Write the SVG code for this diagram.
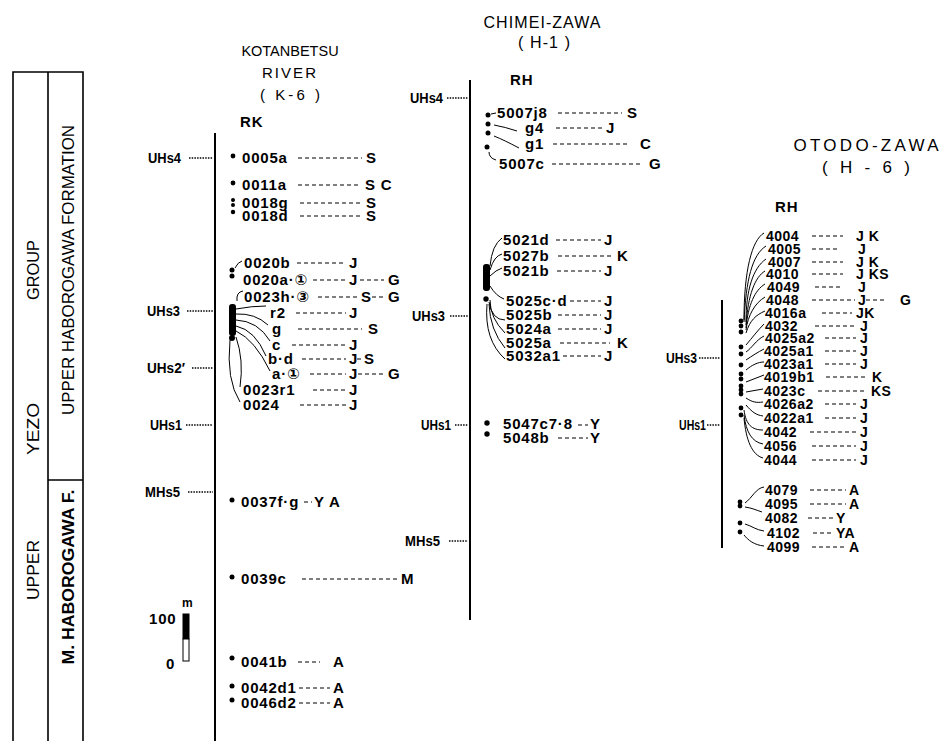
<svg xmlns="http://www.w3.org/2000/svg" width="941" height="741" viewBox="0 0 941 741">
<style>
text{font-family:"Liberation Sans","DejaVu Sans",Arial,sans-serif;fill:#000}
.t{font-size:15px;font-weight:bold;letter-spacing:0.8px}
.s{font-size:14px;font-weight:bold;letter-spacing:0.5px}
.hl{font-size:14px;font-weight:bold}
.h{font-size:16px}
.ax{stroke:#000;stroke-width:2;fill:none}
.d{stroke:#000;stroke-width:1.1;stroke-dasharray:4 3;fill:none}
.hz{stroke:#000;stroke-width:1.3;stroke-dasharray:1.5 1.2;fill:none}
.c{stroke:#000;stroke-width:1;fill:none}
.box{stroke:#000;stroke-width:1.6;fill:none}
</style>
<rect width="941" height="741" fill="#fff"/>

<g id="stratigraphy">
<path class="box" d="M13,741 V72 H83 V741 M48,72 V741 M48,480 H83"/>
<text transform="translate(39,600) rotate(-90)" style="font-size:17px" textLength="60" lengthAdjust="spacingAndGlyphs">UPPER</text>
<text transform="translate(39,455) rotate(-90)" style="font-size:17px" textLength="52" lengthAdjust="spacingAndGlyphs">YEZO</text>
<text transform="translate(39,300) rotate(-90)" style="font-size:17px" textLength="60" lengthAdjust="spacingAndGlyphs">GROUP</text>
<text x="0" y="0" transform="translate(74,270) rotate(-90)" text-anchor="middle" style="font-size:17px" textLength="290" lengthAdjust="spacingAndGlyphs">UPPER HABOROGAWA FORMATION</text>
<text x="0" y="0" transform="translate(74,577) rotate(-90)" text-anchor="middle" style="font-size:16px;font-weight:bold" textLength="175" lengthAdjust="spacingAndGlyphs">M. HABOROGAWA F.</text>
</g>

<!-- ===== K-6 ===== -->
<g id="k6-title">
<text x="290" y="56" text-anchor="middle" style="font-size:14.5px">KOTANBETSU</text>
<text x="289" y="78" text-anchor="middle" style="font-size:15px" textLength="54">RIVER</text>
<text x="290" y="100" text-anchor="middle" style="font-size:15px" textLength="60">( K-6 )</text>
<text class="t" x="240" y="127">RK</text>
</g>
<g id="k6-horizons">
<text class="hl" x="148" y="163" textLength="33" lengthAdjust="spacingAndGlyphs">UHs4</text>
<text class="hl" x="147" y="316" textLength="33" lengthAdjust="spacingAndGlyphs">UHs3</text>
<text class="hl" x="147" y="373" textLength="38" lengthAdjust="spacingAndGlyphs">UHs2′</text>
<text class="hl" x="150" y="430" textLength="32" lengthAdjust="spacingAndGlyphs">UHs1</text>
<text class="hl" x="145" y="497" textLength="35" lengthAdjust="spacingAndGlyphs">MHs5</text>
</g>
<g id="scale">
<text x="182" y="607" style="font-size:12px;font-weight:bold">m</text>
<text class="t" x="149" y="624">100</text>
<text class="t" x="166" y="669">0</text>
<rect x="183" y="614" width="6" height="25" fill="#000" stroke="#000"/>
<rect x="183" y="639" width="6" height="22" fill="#fff" stroke="#000"/>
</g>

<g id="k6-0005a"><circle cx="233" cy="156" r="2.4"/><text class="t" x="242" y="163">0005a</text><text class="t" x="366" y="163">S</text></g>
<g id="k6-0011a"><circle cx="233" cy="183" r="2.4"/><text class="t" x="242" y="190">0011a</text><text class="t" x="365" y="190">S C</text></g>
<g id="k6-0018g"><circle cx="233" cy="200" r="2"/><circle cx="233" cy="205" r="2"/><text class="t" x="242" y="208">0018g</text><text class="t" x="366" y="208">S</text></g>
<g id="k6-0018d"><circle cx="233" cy="212" r="2.2"/><text class="t" x="242" y="221">0018d</text><text class="t" x="366" y="221">S</text></g>
<g id="k6-0020b"><circle cx="232" cy="270" r="2.5"/><text class="t" x="244" y="268">0020b</text><text class="t" x="349" y="268">J</text></g>
<g id="k6-0020a"><circle cx="232" cy="276" r="2.5"/><text class="t" x="243" y="285">0020a·①</text><text class="t" x="349" y="285">J</text><text class="t" x="388" y="285">G</text></g>
<g id="k6-0023h"><text class="t" x="244" y="302">0023h·③</text><text class="t" x="361" y="302">S</text><text class="t" x="388" y="302">G</text></g>
<g id="k6-r2"><rect x="229" y="304" width="7" height="32" rx="3" fill="#000"/><circle cx="232" cy="338" r="3"/><text class="t" x="270" y="318">r2</text><text class="t" x="349" y="318">J</text></g>
<g id="k6-g"><text class="t" x="272" y="334">g</text><text class="t" x="368" y="334">S</text></g>
<g id="k6-c"><text class="t" x="272" y="350">c</text><text class="t" x="349" y="350">J</text></g>
<g id="k6-bd"><text class="t" x="268" y="364">b·d</text><text class="t" x="349" y="364">J</text><text class="t" x="364" y="364">S</text></g>
<g id="k6-a1"><text class="t" x="272" y="379">a·①</text><text class="t" x="349" y="379">J</text><text class="t" x="388" y="379">G</text></g>
<g id="k6-0023r1"><text class="t" x="243" y="395">0023r1</text><text class="t" x="349" y="395">J</text></g>
<g id="k6-0024"><text class="t" x="243" y="410">0024</text><text class="t" x="349" y="410">J</text></g>
<g id="k6-0037fg"><circle cx="232" cy="500" r="2.5"/><text class="t" x="241" y="507">0037f·g</text><text class="t" x="314" y="507">Y A</text></g>
<g id="k6-0039c"><circle cx="232" cy="577" r="2.5"/><text class="t" x="241" y="584">0039c</text><text class="t" x="401" y="584">M</text></g>
<g id="k6-0041b"><circle cx="232" cy="658" r="2.5"/><text class="t" x="241" y="667">0041b</text><text class="t" x="333" y="667">A</text></g>
<g id="k6-0042d1"><circle cx="232" cy="686" r="2.5"/><text class="t" x="241" y="693">0042d1</text><text class="t" x="333" y="693">A</text></g>
<g id="k6-0046d2"><circle cx="232" cy="700" r="2.5"/><text class="t" x="241" y="708">0046d2</text><text class="t" x="333" y="708">A</text></g>

<!-- ===== H-1 ===== -->
<g id="h1-title">
<text class="h" x="542" y="28" text-anchor="middle" textLength="117">CHIMEI-ZAWA</text>
<text class="h" x="544" y="48" text-anchor="middle" textLength="52">( H-1 )</text>
<text class="t" x="510" y="85">RH</text>
</g>
<g id="h1-horizons">
<text class="hl" x="410" y="103" textLength="33" lengthAdjust="spacingAndGlyphs">UHs4</text>
<text class="hl" x="412" y="321" textLength="33" lengthAdjust="spacingAndGlyphs">UHs3</text>
<text class="hl" x="421" y="430" textLength="30" lengthAdjust="spacingAndGlyphs">UHs1</text>
<text class="hl" x="405" y="546" textLength="35" lengthAdjust="spacingAndGlyphs">MHs5</text>
</g>
<g id="h1-5007j8"><circle cx="488" cy="115" r="2.5"/><text class="t" x="497" y="118">5007j8</text><text class="t" x="627" y="118">S</text></g>
<g id="h1-g4"><circle cx="488" cy="124" r="2.5"/><text class="t" x="525" y="133">g4</text><text class="t" x="606" y="133">J</text></g>
<g id="h1-g1"><circle cx="488" cy="133" r="2.5"/><text class="t" x="525" y="149">g1</text><text class="t" x="640" y="149">C</text></g>
<g id="h1-5007c"><circle cx="487" cy="147" r="2.5"/><text class="t" x="499" y="169">5007c</text><text class="t" x="649" y="169">G</text></g>
<g id="h1-5021d"><rect x="483" y="264" width="7" height="27" rx="3" fill="#000"/><text class="t" x="503" y="245">5021d</text><text class="t" x="604" y="245">J</text></g>
<g id="h1-5027b"><text class="t" x="503" y="261">5027b</text><text class="t" x="617" y="261">K</text></g>
<g id="h1-5021b"><text class="t" x="503" y="276">5021b</text><text class="t" x="604" y="276">J</text></g>
<g id="h1-5025cd"><circle cx="486" cy="299" r="2.7"/><text class="t" x="506" y="306">5025c·d</text><text class="t" x="604" y="306">J</text></g>
<g id="h1-5025b"><text class="t" x="506" y="320">5025b</text><text class="t" x="604" y="320">J</text></g>
<g id="h1-5024a"><text class="t" x="506" y="334">5024a</text><text class="t" x="604" y="334">J</text></g>
<g id="h1-5025a"><text class="t" x="506" y="348">5025a</text><text class="t" x="617" y="348">K</text></g>
<g id="h1-5032a1"><text class="t" x="506" y="361">5032a1</text><text class="t" x="604" y="361">J</text></g>
<g id="h1-5047"><circle cx="487" cy="423" r="2.7"/><text class="t" x="503" y="429">5047c7·8</text><text class="t" x="590" y="429">Y</text></g>
<g id="h1-5048b"><circle cx="487" cy="434" r="2.7"/><text class="t" x="503" y="443">5048b</text><text class="t" x="590" y="443">Y</text></g>

<!-- ===== H-6 ===== -->
<g id="h6-title">
<text x="866" y="151" text-anchor="middle" style="font-size:17px" textLength="145">OTODO-ZAWA</text>
<text x="866" y="173" text-anchor="middle" style="font-size:17px" textLength="88">( H - 6 )</text>
<text class="t" x="775" y="212">RH</text>
</g>
<g id="h6-horizons">
<text class="hl" x="666" y="363" textLength="31" lengthAdjust="spacingAndGlyphs">UHs3</text>
<text class="hl" x="679" y="430" textLength="27" lengthAdjust="spacingAndGlyphs">UHs1</text>
</g>
<g id="h6-dots">
<circle cx="741" cy="321" r="2.4"/><circle cx="741" cy="326" r="2.4"/><circle cx="741" cy="332" r="2.4"/>
<circle cx="741" cy="347" r="2.4"/><circle cx="741" cy="354" r="2.4"/><circle cx="741" cy="365" r="2.4"/>
<circle cx="741" cy="374" r="2.4"/><circle cx="741" cy="379" r="2.4"/><circle cx="741" cy="386" r="2.4"/>
<circle cx="741" cy="390" r="2.4"/><circle cx="741" cy="394" r="2.4"/><circle cx="741" cy="408" r="2.4"/>
<circle cx="741" cy="415" r="2.4"/>
<circle cx="740" cy="502" r="2.4"/><circle cx="740" cy="506" r="2.4"/><circle cx="740" cy="523" r="2.4"/><circle cx="740" cy="532" r="2.4"/>
</g>
<g id="h6-4004"><text class="s" x="766" y="241">4004</text><text class="s" x="856" y="241">J K</text></g>
<g id="h6-4005"><text class="s" x="768" y="254">4005</text><text class="s" x="858" y="254">J</text></g>
<g id="h6-4007"><text class="s" x="768" y="267">4007</text><text class="s" x="856" y="267">J K</text></g>
<g id="h6-4010"><text class="s" x="766" y="279">4010</text><text class="s" x="856" y="279">J KS</text></g>
<g id="h6-4049"><text class="s" x="767" y="292">4049</text><text class="s" x="858" y="292">J</text></g>
<g id="h6-4048"><text class="s" x="766" y="305">4048</text><text class="s" x="858" y="305">J</text><text class="s" x="900" y="305">G</text></g>
<g id="h6-4016a"><text class="s" x="765" y="318">4016a</text><text class="s" x="856" y="318">JK</text></g>
<g id="h6-4032"><text class="s" x="765" y="331">4032</text><text class="s" x="860" y="331">J</text></g>
<g id="h6-4025a2"><text class="s" x="765" y="343">4025a2</text><text class="s" x="860" y="343">J</text></g>
<g id="h6-4025a1"><text class="s" x="764" y="356">4025a1</text><text class="s" x="860" y="356">J</text></g>
<g id="h6-4023a1"><text class="s" x="764" y="369">4023a1</text><text class="s" x="860" y="369">J</text></g>
<g id="h6-4019b1"><text class="s" x="764" y="382">4019b1</text><text class="s" x="872" y="382">K</text></g>
<g id="h6-4023c"><text class="s" x="764" y="396">4023c</text><text class="s" x="871" y="396">KS</text></g>
<g id="h6-4026a2"><text class="s" x="764" y="409">4026a2</text><text class="s" x="860" y="409">J</text></g>
<g id="h6-4022a1"><text class="s" x="764" y="423">4022a1</text><text class="s" x="860" y="423">J</text></g>
<g id="h6-4042"><text class="s" x="764" y="437">4042</text><text class="s" x="860" y="437">J</text></g>
<g id="h6-4056"><text class="s" x="764" y="451">4056</text><text class="s" x="860" y="451">J</text></g>
<g id="h6-4044"><text class="s" x="764" y="465">4044</text><text class="s" x="860" y="465">J</text></g>
<g id="h6-4079"><text class="s" x="765" y="495">4079</text><text class="s" x="849" y="495">A</text></g>
<g id="h6-4095"><text class="s" x="765" y="509">4095</text><text class="s" x="849" y="509">A</text></g>
<g id="h6-4082"><text class="s" x="765" y="523">4082</text><text class="s" x="836" y="523">Y</text></g>
<g id="h6-4102"><text class="s" x="767" y="538">4102</text><text class="s" x="836" y="538">YA</text></g>
<g id="h6-4099"><text class="s" x="767" y="552">4099</text><text class="s" x="849" y="552">A</text></g>

<g id="connectors">
<path class="ax" d="M215,133 V741 M470,80 V620 M722,300 V548"/>
<path class="hz" d="M189,158 H213 M187,311 H213 M192,368 H213 M186,425 H213 M188,492 H213 M447,98 H468 M450,316 H468 M455,425 H468 M449,541 H468 M699,358 H720 M707,425 H720"/>
<path class="d" d="M298,158 H362 M298,185 H358 M300,203 H362 M300,216 H362 M297,263 H346 M313,280 H346 M360,280 H384 M318,297 H358 M372,297 H384 M296,313 H346 M298,329 H362 M292,345 H346 M302,359 H346 M357,359 H362 M310,374 H346 M358,374 H384 M313,390 H346 M300,405 H346 M304,502 H312 M302,579 H398 M298,662 H320 M299,688 H330 M299,703 H330"/>
<path class="d" d="M558,113 H622 M556,128 H602 M553,144 H630 M552,164 H643 M556,240 H601 M558,256 H612 M557,271 H601 M570,301 H601 M558,315 H601 M558,329 H601 M560,343 H610 M563,356 H601 M578,425 H588 M558,438 H588"/>
<path class="d" d="M812,236 H843 M812,249 H839 M812,262 H843 M812,274 H843 M815,287 H843 M812,300 H855 M866,300 H886 M822,313 H852 M815,326 H856 M825,338 H856 M825,351 H856 M825,364 H856 M826,377 H866 M818,391 H866 M825,404 H856 M825,418 H856 M810,432 H856 M812,446 H856 M812,460 H856 M810,490 H846 M810,504 H846 M808,518 H834 M813,533 H834 M812,547 H846"/>
<path class="c" d="M235,268 Q238,262 242,261 M237,301 Q236,292 243,291 M236,309 Q252,306 266,306 M236,314 Q255,313 268,325 M236,320 Q258,321 270,341 M236,326 Q255,330 266,356 M236,331 Q255,340 270,371 M236,337 Q244,360 240,387 M230,340 Q226,380 240,402"/>
<path class="c" d="M491,114 L496,113 M494,125 Q505,127 517,131 M494,136 Q504,140 519,148 M489,152 Q489,158 496,160 M490,266 Q492,245 502,238 M490,270 Q494,256 502,254 M490,276 Q496,270 502,268 M490,286 Q496,296 504,299 M489,302 Q492,320 505,320 M490,300 Q490,318 505,333 M489,304 Q490,330 505,348 M487,304 Q484,340 505,359"/>
<path class="c" d="M744,320 C744,270 752,240 764,233 M744,322 C746,280 752,255 766,246 M746,322 C746,290 753,268 766,259 M746,325 C748,295 755,277 765,271 M746,328 C748,305 755,290 765,284 M746,330 C748,315 755,303 765,297 M746,333 C750,320 756,315 765,311 M746,345 C752,338 758,330 764,324 M746,352 C752,348 756,340 764,336 M746,360 C752,356 758,352 764,349 M746,370 C752,365 758,362 764,362 M746,382 C752,380 758,377 764,375 M746,392 L763,389 M746,398 C752,402 756,403 763,402 M746,405 C752,412 756,415 763,416 M744,410 C746,425 752,430 763,430 M744,415 C746,432 752,442 763,444 M744,418 C746,440 752,455 763,458 M745,503 C752,498 756,488 764,487 M745,507 C752,508 756,510 762,512 M745,524 C752,526 756,530 764,531 M744,535 C748,540 754,545 764,546"/>
</g>
</svg>
